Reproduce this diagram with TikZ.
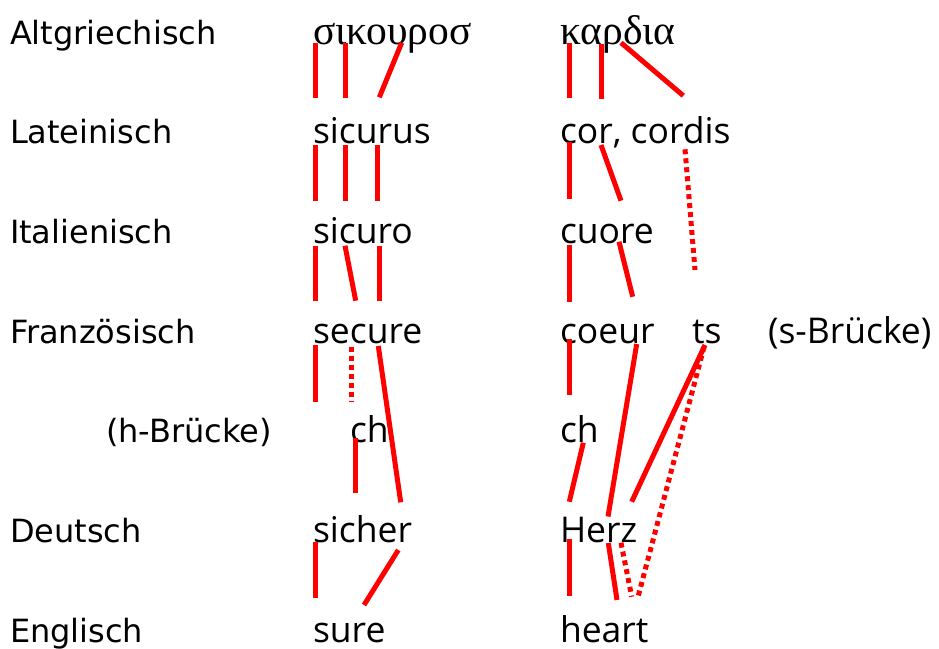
\documentclass[tikz,border=0pt]{standalone}
\usepackage{fontspec}
\newfontfamily\labelfont{DejaVu Sans}
\newfontfamily\wordfont{Open Sans}
\newfontfamily\greekfont{Liberation Serif}
\begin{document}
\begin{tikzpicture}[x=1pt,y=-1pt,
  lab/.style={anchor=base west,inner sep=0pt,outer sep=0pt,font=\labelfont\fontsize{32}{36}\selectfont},
  wrd/.style={anchor=base west,inner sep=0pt,outer sep=0pt,font=\wordfont\fontsize{35.5}{40}\selectfont},
  grk/.style={anchor=base west,inner sep=0pt,outer sep=0pt,font=\greekfont\fontsize{41.5}{44}\selectfont},
  link/.style={draw=red,line width=5pt,line cap=butt},
  dlink/.style={link,dash pattern=on 5pt off 4pt}]
\useasboundingbox (0,0) rectangle (939,648);
% left labels
\node[lab] (l1) at (10,44) {Altgriechisch};
\node[lab] (l2) at (10,143.5) {Lateinisch};
\node[lab] (l3) at (10,243.3) {Italienisch};
\node[lab] (l4) at (10,343) {Französisch};
\node[lab] (l5) at (106,442.5) {(h-Brücke)};
\node[lab] (l6) at (10,542) {Deutsch};
\node[lab] (l7) at (10,642) {Englisch};
% words
\node[grk] (g1) at (313,44) {σικουροσ};
\node[grk] (g2) at (560,44) {καρδια};
\node[wrd] (a2) at (313,143.5) {sicurus};
\node[wrd] (b2) at (560,143.5) {cor, cordis};
\node[wrd] (a3) at (313,243.3) {sicuro};
\node[wrd] (b3) at (560,243.3) {cuore};
\node[wrd] (a4) at (313,343) {secure};
\node[wrd] (b4) at (560,343) {coeur};
\node[wrd] (c4) at (692,343) {ts};
\node[wrd] (d4) at (768,343) {(s-Brücke)};
\node[wrd] (a5) at (350,442.5) {ch};
\node[wrd] (b5) at (560,442.5) {ch};
\node[wrd] (a6) at (313,542) {sicher};
\node[wrd] (b6) at (560,542) {Herz};
\node[wrd] (a7) at (313,642) {sure};
\node[wrd] (b7) at (560,642) {heart};
% Greek -> Latin
\draw[link] (315,43) -- (315,98);
\draw[link] (345,43) -- (345,98);
\draw[link] (401.7,42.7) -- (379.3,97.3);
\draw[link] (569.3,43) -- (569.3,98);
\draw[link] (601,44) -- (601,99);
\draw[link] (621,42.7) -- (683.3,95.7);
% Latin -> Italian
\draw[link] (315,145) -- (315,200.7);
\draw[link] (345,145) -- (345,200.7);
\draw[link] (377.3,145) -- (377.3,200.7);
\draw[link] (569.3,142.3) -- (569.3,198.7);
\draw[link] (601,145) -- (621,200.7);
\draw[dlink] (685,149.3) -- (695,270);
% Italian -> French
\draw[link] (315,245.7) -- (315,300.7);
\draw[link] (345,245.7) -- (355.7,300.7);
\draw[link] (379.3,245.7) -- (379.3,300.7);
\draw[link] (569.3,245) -- (569.3,301.7);
\draw[link] (619,241.7) -- (632.7,296.7);
% French -> bridges / German
\draw[link] (315,345) -- (315,401.7);
\draw[dlink] (351,346.7) -- (351,401.7);
\draw[link] (378.3,346) -- (400.7,502.3);
\draw[link] (569.3,339.3) -- (569.3,395);
\draw[link] (355,438.3) -- (355,493.3);
\draw[link] (583.3,442.7) -- (569.3,501.7);
\draw[link] (636.7,344) -- (608,516.5);
\draw[link] (705,345) -- (631.7,501.7);
\draw[dlink] (704,347) -- (638,597);
% German -> English
\draw[link] (315,541.7) -- (315,597.7);
\draw[link] (398.3,550) -- (364,605);
\draw[link] (569.3,539.3) -- (569.3,595.7);
\draw[link] (608.3,543) -- (617,600);
\draw[dlink] (621,542.7) -- (631.7,596.7);
\end{tikzpicture}
\end{document}
